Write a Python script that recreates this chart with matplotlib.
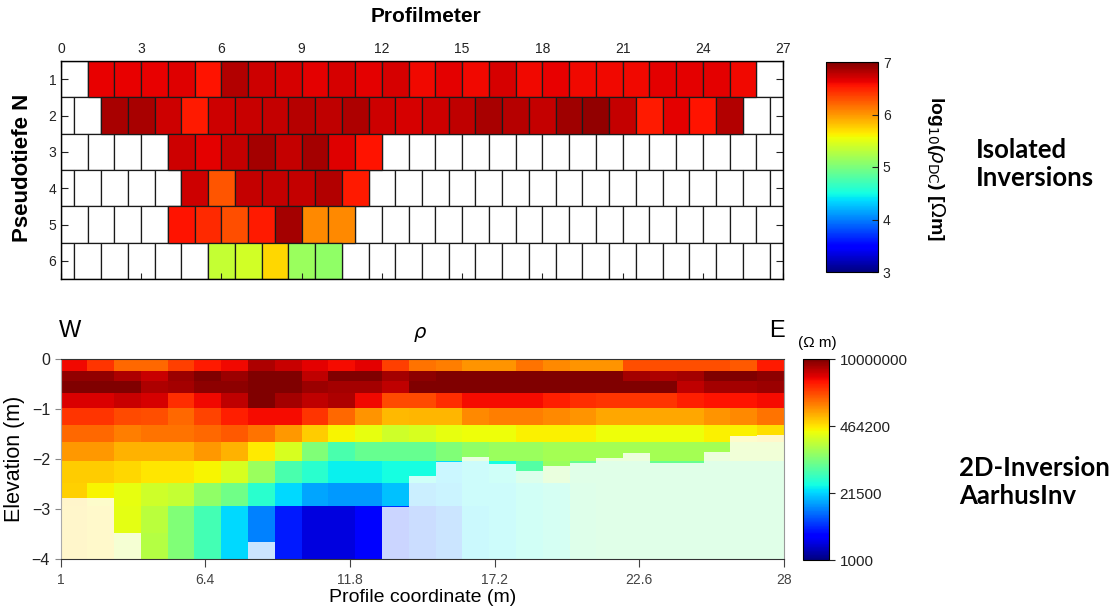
import numpy as np
import matplotlib
matplotlib.use("Agg")
import matplotlib.pyplot as plt
from matplotlib import font_manager as fm
from matplotlib.cm import ScalarMappable
from matplotlib.colors import Normalize

# ---------------- data: isolated inversions (log10 rho per pseudosection cell)
pseudo_rows = [1, 2, 3, 4, 5, 6]
row_start = [1, 1.5, 4, 4.5, 4, 5.5]   # profilmeter where the first coloured cell starts
row1 = [6.63, 6.63, 6.63, 6.67, 6.55, 6.82, 6.72, 6.7, 6.65, 6.7, 6.65, 6.7, 6.6,
        6.65, 6.6, 6.7, 6.6, 6.63, 6.6, 6.6, 6.6, 6.65, 6.65, 6.65, 6.6]
row2 = [6.85, 6.85, 6.72, 6.52, 6.72, 6.74, 6.76, 6.8, 6.78, 6.84, 6.72, 6.7,
        6.72, 6.78, 6.85, 6.8, 6.76, 6.88, 6.93, 6.75, 6.52, 6.65, 6.56, 6.82]
row3 = [6.72, 6.65, 6.75, 6.86, 6.75, 6.86, 6.66, 6.56]
row4 = [6.72, 6.28, 6.76, 6.76, 6.76, 6.82, 6.52]
row5 = [6.56, 6.46, 6.3, 6.52, 6.86, 6.05, 6.05]
row6 = [5.35, 5.42, 5.72, 5.15, 5.1]
pseudo_vals = [row1, row2, row3, row4, row5, row6]

# ---------------- data: 2D inversion (AarhusInv), log10 rho per layer and column
x_edges = np.arange(1, 29)
layer_bounds = [0, -0.23, -0.43, -0.68, -0.98, -1.31, -1.65, -2.03, -2.47, -2.93, -3.47, -4.0]
L1 = [6.6, 6.42, 6.2, 6.2, 6.37, 6.52, 6.6, 6.83, 6.74, 6.65, 6.58, 6.65, 6.37, 6.15,
      6.1, 6.0, 6.0, 6.15, 6.05, 6.0, 6.0, 6.3, 6.3, 6.3, 6.3, 6.25, 6.52]
L2 = [6.93, 6.93, 6.83, 6.74, 6.9, 7.0, 6.9, 7.0, 7.0, 6.78, 7.0, 7.0, 6.87, 6.95,
      7.0, 7.0, 7.0, 7.0, 7.0, 7.0, 7.0, 6.87, 6.83, 6.87, 7.0, 7.0, 6.95]
L3 = [7.0, 7.0, 7.0, 6.83, 6.87, 6.95, 6.95, 7.0, 7.0, 6.9, 6.87, 6.87, 6.78, 7.0,
      7.0, 7.0, 7.0, 7.0, 7.0, 7.0, 7.0, 7.0, 7.0, 6.78, 6.87, 6.87, 6.9]
L4 = [6.68, 6.68, 6.74, 6.7, 6.45, 6.6, 6.78, 7.0, 6.87, 6.78, 6.83, 6.6, 6.32, 6.32,
      6.45, 6.58, 6.58, 6.58, 6.5, 6.45, 6.42, 6.42, 6.42, 6.5, 6.55, 6.55, 6.58]
L5 = [6.42, 6.42, 6.32, 6.3, 6.2, 6.35, 6.5, 6.58, 6.58, 6.42, 6.2, 6.0, 5.85, 5.87,
      5.87, 6.05, 6.1, 6.1, 6.05, 6.0, 5.93, 5.93, 5.93, 5.93, 6.0, 6.05, 6.15]
L6 = [6.2, 6.2, 6.1, 6.15, 6.15, 6.2, 6.25, 6.15, 5.99, 5.78, 5.6, 5.52, 5.4, 5.45,
      5.52, 5.56, 5.56, 5.62, 5.62, 5.62, 5.56, 5.56, 5.56, 5.56, 5.62, 5.62, 5.7]
L7 = [5.99, 5.99, 5.88, 5.88, 5.88, 5.99, 5.88, 5.65, 5.45, 5.02, 4.76, 4.9, 4.9, 4.9,
      5.02, 5.1, 5.15, 5.15, 5.2, 5.2, 5.2, 5.2, 5.2, 5.2, 5.2, 5.3, 5.3]
L8 = [5.78, 5.78, 5.72, 5.67, 5.67, 5.6, 5.45, 5.15, 4.76, 4.6, 4.45, 4.45, 4.5, 4.5,
      4.35, 4.45, 4.5, 4.8, 5.15, 4.9, 4.9, 4.9, 4.9, 4.9, 4.9, 4.9, 4.9]
L9 = [5.75, 5.6, 5.52, 5.4, 5.35, 5.1, 4.95, 4.6, 4.35, 4.15, 4.1, 4.1, 4.25, 4.2,
      4.3, 4.45, 4.45, 4.55, 4.65, 4.85, 4.9, 4.9, 4.9, 4.9, 4.9, 4.9, 4.9]
L10 = [5.72, 5.67, 5.5, 5.3, 5.02, 4.72, 4.35, 4.0, 3.6, 3.33, 3.33, 3.5, 3.7, 3.85,
       4.0, 4.4, 4.45, 4.55, 4.65, 4.85, 4.9, 4.9, 4.9, 4.9, 4.9, 4.9, 4.9]
L11 = [5.72, 5.67, 5.4, 5.28, 5.02, 4.72, 4.35, 4.0, 3.6, 3.33, 3.33, 3.5, 3.7, 3.85,
       4.0, 4.4, 4.45, 4.55, 4.65, 4.85, 4.9, 4.9, 4.9, 4.9, 4.9, 4.9, 4.9]
inv_vals = np.array([L1, L2, L3, L4, L5, L6, L7, L8, L9, L10, L11])
# depth of investigation (top of the faded area) per column
doi = [-2.78, -2.78, -3.47, -4, -4, -4, -4, -3.65, -4, -4, -4, -4, -2.95, -2.33,
       -2.05, -1.95, -2.1, -2.23, -2.13, -2.08, -1.98, -1.87, -2.07, -2.07, -1.85,
       -1.53, -1.52]

cbar_ticks_top = [3, 4, 5, 6, 7]
cbar_ticks_bottom = [1000, 21500, 464200, 10000000]
x_ticks_bottom = [1, 6.4, 11.8, 17.2, 22.6, 28]


def has_font(name):
    try:
        fm.findfont(name, fallback_to_default=False)
        return True
    except ValueError:
        return False


narrow = "Liberation Sans Narrow" if has_font("Liberation Sans Narrow") else "Liberation Sans"
label_font = "Lato" if has_font("Lato") else "DejaVu Sans"
plt.rcParams["font.family"] = ["Liberation Sans", "DejaVu Sans"]

W, H = 1109, 611
fig = plt.figure(figsize=(W / 100, H / 100), dpi=100)


def box(l, t, r, b):
    return [l / W, 1 - b / H, (r - l) / W, (b - t) / H]


norm = Normalize(3, 7)
cmap = plt.get_cmap("jet")

# ---------------- top: pseudosection bricks
ax1 = fig.add_axes(box(61, 61, 783, 279))
for r in pseudo_rows:
    if r % 2 == 1:
        edges = np.arange(0, 28)
    else:
        edges = np.r_[0, np.arange(0.5, 27, 1), 27]
    ax1.barh(np.full(len(edges) - 1, r), np.diff(edges), left=edges[:-1], height=1,
             color="white", edgecolor="#1a1a1a", linewidth=0.9)
for r, start, vals in zip(pseudo_rows, row_start, pseudo_vals):
    lefts = start + np.arange(len(vals))
    ax1.barh(np.full(len(vals), r), 1, left=lefts, height=1,
             color=cmap(norm(np.array(vals))), edgecolor="#1a1a1a", linewidth=0.9)
ax1.set_xlim(0, 27)
ax1.set_ylim(6.5, 0.5)
ax1.set_xticks(range(0, 28, 3))
ax1.set_yticks(pseudo_rows)
ax1.xaxis.set_ticks_position("both")
ax1.tick_params(axis="x", labeltop=True, labelbottom=False, direction="in",
                length=4, labelsize=10, colors="#222")
ax1.tick_params(axis="y", left=True, right=True, direction="in", length=5,
                labelsize=10, colors="#222")
for s in ax1.spines.values():
    s.set_linewidth(1.0)
fig.text(426 / W, 1 - 16 / H, "Profilmeter", ha="center", va="center",
         fontsize=15, fontweight="bold")
fig.text(23 / W, 1 - 168 / H, "Pseudotiefe N", rotation=90, ha="center",
         va="center", fontsize=16, fontweight="bold")

cax1 = fig.add_axes(box(826, 62, 878, 272))
cb1 = fig.colorbar(ScalarMappable(norm=norm, cmap=cmap), cax=cax1, ticks=cbar_ticks_top)
cb1.ax.tick_params(direction="in", length=4, labelsize=10, colors="#222")
cb1.outline.set_linewidth(0.8)
fig.text(936 / W, 1 - 168 / H, r"log$_{10}$($\rho_{\rm DC}$) [$\Omega$m]",
         rotation=270, ha="center", va="center", fontsize=14, fontweight="bold")

fig.text(976 / W, 1 - 164 / H, "Isolated\nInversions", ha="left", va="center",
         fontsize=18.5, fontweight="bold", family=label_font, linespacing=1.15)

# ---------------- bottom: 2D inversion section
ax2 = fig.add_axes(box(60.5, 359.3, 784, 559.3))
mesh = ax2.pcolormesh(x_edges, layer_bounds, inv_vals, cmap=cmap, norm=norm)
ax2.fill_between(x_edges, np.r_[doi, doi[-1]], -4, step="post", color="white",
                 alpha=0.8, linewidth=0)
ax2.set_xlim(1, 28)
ax2.set_ylim(-4, 0)
ax2.set_xticks(x_ticks_bottom)
ax2.set_xticklabels(["1", "6.4", "11.8", "17.2", "22.6", "28"])
ax2.set_yticks([0, -1, -2, -3, -4])
ax2.tick_params(axis="x", direction="out", length=6, labelsize=10,
                labelcolor="#444", color="#444", pad=4)
ax2.tick_params(axis="y", direction="out", length=4, labelsize=11.5,
                labelcolor="#222", color="#888")
for lab in ax2.get_xticklabels() + ax2.get_yticklabels():
    lab.set_family(narrow)
ax2.spines["top"].set_color("#333")
ax2.spines["bottom"].set_color("#333")
ax2.spines["left"].set_color("#aaa")
ax2.spines["right"].set_color("#999")
ax2.set_xlabel("Profile coordinate (m)", fontsize=14, family=narrow, labelpad=1)
ax2.set_ylabel("Elevation (m)", fontsize=15.5, family=narrow, labelpad=5)

fig.text(70 / W, 1 - 331 / H, "W", ha="center", va="center", fontsize=17)
fig.text(777 / W, 1 - 331 / H, "E", ha="center", va="center", fontsize=17)
fig.text(420 / W, 1 - 334 / H, r"$\rho$", ha="center", va="center", fontsize=14)

cax2 = fig.add_axes(box(803, 359.3, 829, 560))
cb2 = fig.colorbar(mesh, cax=cax2, ticks=np.log10(cbar_ticks_bottom))
cb2.ax.set_yticklabels([str(v) for v in cbar_ticks_bottom], family=narrow)
cb2.ax.tick_params(length=4, labelsize=11, colors="#222")
cb2.outline.set_linewidth(0.8)
fig.text(817 / W, 1 - 343 / H, "(Ω m)", ha="center", va="center", fontsize=11,
         family=narrow)

fig.text(959 / W, 1 - 482 / H, "2D-Inversion\nAarhusInv", ha="left", va="center",
         fontsize=18.5, fontweight="bold", family=label_font, linespacing=1.15)

fig.savefig("out.png", dpi=100)
